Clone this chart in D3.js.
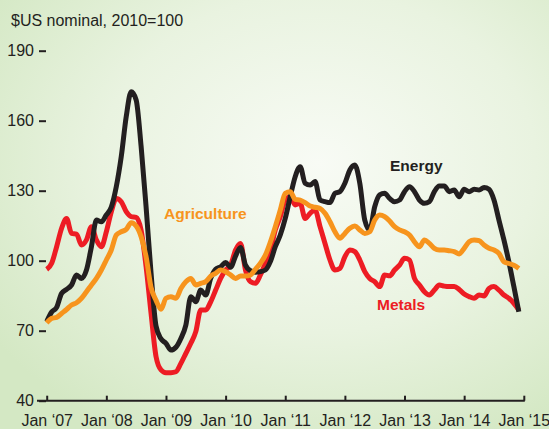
<!DOCTYPE html>
<html>
<head>
<meta charset="utf-8">
<script src="https://cdn.jsdelivr.net/npm/d3@7"></script>
<style>
  html, body { margin: 0; padding: 0; }
  body { width: 549px; height: 429px; overflow: hidden; }
  svg { display: block; }
  text { font-family: "Liberation Sans", Arial, Helvetica, sans-serif; }
</style>
</head>
<body>
<svg id="chart" width="549" height="429"></svg>
<script>
// Monthly indices, Jan 2007 .. Dec 2014 ($US nominal, 2010=100)
const energy = [
  73.9, 78, 80, 86, 87.7, 89.6, 93.9, 92.4, 96, 106, 117.4, 116.7,
  119.6, 123, 131.7, 144.6, 161.7, 172.4, 168.9, 148.9, 123, 94.6, 72, 66.5,
  64.6, 61.7, 62.9, 66.7, 72.4, 84.6, 82.4, 87.4, 85.3, 92.4, 96.3, 97.4,
  99.2, 97.2, 102, 105.7, 98.1, 95.7, 95.1, 95.3, 96, 99.6, 106, 111,
  118.1, 127.4, 136, 140.3, 133.2, 132.4, 133.9, 126, 125.3, 124.9, 128.9, 129.6,
  133.2, 138.9, 141, 133.2, 117.4, 113.2, 123.1, 128.2, 128.9, 126.7, 125.3, 126,
  129.6, 131.7, 129.6, 126, 124.6, 125.3, 129.6, 132, 132, 129.6, 130.3, 127.4,
  130.6, 129.6, 130.6, 130.3, 131.4, 130.6, 126, 117.4, 108.9, 99.5, 88.9, 78.1
];
const agriculture = [
  73.4, 75.3, 75.7, 77.4, 79.1, 81, 82, 83.9, 86.7, 89.6, 92.4, 96,
  100.3, 104.6, 111, 112.4, 113.4, 116.3, 114.9, 110.3, 101.7, 88.5, 83, 79.2,
  83.9, 84.6, 83.9, 88.1, 91, 92.4, 89.6, 90.3, 91, 93.4, 94.6, 96,
  95.3, 93.9, 92.4, 93.4, 93.4, 93.9, 96.3, 98.9, 102.4, 108, 114.6, 121.7,
  128.9, 129.6, 126.3, 126, 124.9, 123.4, 122.9, 122.4, 120.3, 116.7, 112.4, 109.6,
  111.7, 113.9, 114.9, 113.2, 111.7, 112.4, 117.4, 119.6, 118.9, 117, 114.6, 113.2,
  112.4, 111, 108.1, 106, 108.9, 107.4, 105.3, 104.6, 104.6, 104.3, 103.9, 102.9,
  105.3, 108.1, 108.9, 108.6, 106.7, 105.3, 104.6, 103.1, 99.6, 98.8, 98.1, 96.7
];
const metals = [
  96.3, 98.9, 106, 113.9, 118.1, 111.7, 111.4, 106.7, 108.9, 114.6, 108.9, 106,
  112.4, 121, 126.7, 125.3, 121, 118.9, 118.6, 113.1, 97.4, 77.4, 58.9, 53.2,
  52, 52, 52.4, 56, 60.3, 64.6, 69.6, 78.9, 78.9, 82.4, 87.4, 92.4,
  96, 98.1, 104.6, 107.4, 96, 91, 90.3, 93.9, 98.9, 104.2, 113.2, 118.9,
  126, 127.4, 123.9, 124.6, 118.1, 120.3, 121.7, 114.6, 107.4, 100.3, 96, 96.7,
  101.7, 104.6, 103.9, 100.3, 95.3, 92.4, 91, 88.9, 93.9, 93.5, 96, 98.1,
  101, 100.3, 92.4, 89.6, 86.7, 85.3, 87.4, 89.6, 89.1, 88.9, 88.9, 87.7,
  85.7, 84.6, 83.9, 85.3, 84.9, 88.1, 88.9, 87.4, 85.3, 83.9, 81.7, 78.9
];
const xTickLabels = ["Jan \u201807", "Jan \u201808", "Jan \u201809", "Jan \u201810", "Jan \u201811",
                     "Jan \u201812", "Jan \u201813", "Jan \u201814", "Jan \u201815"];
const yTicks = [40, 70, 100, 130, 160, 190];
const seriesNames = ["Metals", "Energy", "Agriculture"];

const svg = d3.select("#chart");
const W = 549, H = 429;

// background
const defs = svg.append("defs");
const grad = defs.append("radialGradient").attr("id", "bg")
  .attr("cx", "58%").attr("cy", "38%").attr("r", "72%");
grad.append("stop").attr("offset", "0%").attr("stop-color", "#f8fbf5");
grad.append("stop").attr("offset", "55%").attr("stop-color", "#e9f3e0");
grad.append("stop").attr("offset", "100%").attr("stop-color", "#d4e8c4");
svg.append("rect").attr("width", W).attr("height", H).attr("fill", "url(#bg)");

const x = d3.scaleLinear().domain([0, 96]).range([46.7, 523.8]);
const y = d3.scaleLinear().domain([40, 190]).range([400.7, 50.7]);

const ink = "#231f20";
const fs = 16;

// title
svg.append("text").attr("x", 11).attr("y", 26)
  .attr("font-size", fs).attr("fill", ink).text("$US nominal, 2010=100");

// y axis
const yAxis = svg.append("g").attr("transform", "translate(46,0)")
  .call(d3.axisLeft(y).tickValues(yTicks).tickSize(7).tickPadding(5).tickFormat(d3.format("d")));
yAxis.select(".domain").remove();
yAxis.selectAll("line").attr("stroke", ink).attr("stroke-width", 2);
yAxis.selectAll("text").attr("font-size", fs).attr("fill", ink)
  .attr("font-family", "Liberation Sans, Arial, sans-serif");

// x axis
const xAxis = svg.append("g").attr("transform", `translate(0,${y(40)})`)
  .call(d3.axisBottom(x).tickValues(d3.range(0, 97, 12)).tickSizeInner(-5).tickSizeOuter(0)
    .tickPadding(14).tickFormat((d, i) => xTickLabels[i]));
xAxis.select(".domain").remove();
xAxis.selectAll("line").attr("stroke", ink).attr("stroke-width", 2);
xAxis.selectAll("text").attr("font-size", fs).attr("fill", ink)
  .attr("font-family", "Liberation Sans, Arial, sans-serif");
svg.append("line").attr("x1", 37).attr("x2", x(96) + 1)
  .attr("y1", y(40)).attr("y2", y(40)).attr("stroke", ink).attr("stroke-width", 2);

// lines
const line = d3.line().x((d, i) => x(i)).y(d => y(d)).curve(d3.curveMonotoneX);
const series = [
  { name: "Metals", values: metals, color: "#ed1c24", lx: 377, ly: 309.5 },
  { name: "Energy", values: energy, color: "#231f20", lx: 390, ly: 170.5 },
  { name: "Agriculture", values: agriculture, color: "#f7941d", lx: 164, ly: 219 }
];
svg.append("g").selectAll("path").data(series).join("path")
  .attr("d", d => line(d.values))
  .attr("fill", "none")
  .attr("stroke", d => d.color)
  .attr("stroke-width", 5)
  .attr("stroke-linejoin", "round")
  .attr("stroke-linecap", "butt");

svg.append("g").selectAll("text").data(series).join("text")
  .attr("x", d => d.lx).attr("y", d => d.ly)
  .attr("font-size", 15.5).attr("font-weight", "bold")
  .attr("fill", d => d.color).text(d => d.name);
</script>
</body>
</html>
